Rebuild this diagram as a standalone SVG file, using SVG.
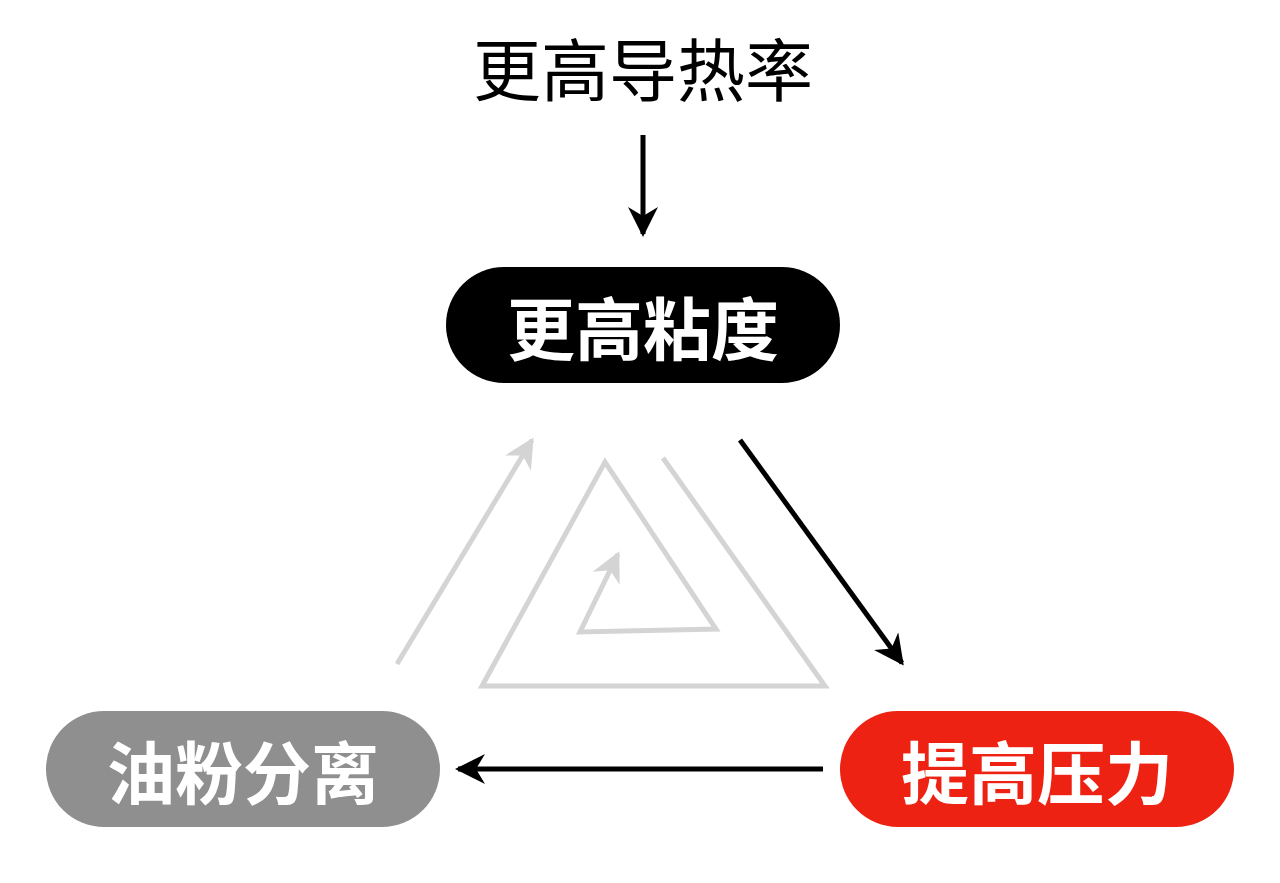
<svg xmlns="http://www.w3.org/2000/svg" width="1280" height="883" viewBox="0 0 1280 883">
<defs>
<marker id="ab" viewBox="0 0 10 10" refX="9" refY="5" markerWidth="6" markerHeight="6" markerUnits="strokeWidth" orient="auto"><path d="M0,0L10,5L0,10L3,5z" fill="#000"/></marker>
<marker id="ag" viewBox="0 0 10 10" refX="9" refY="5" markerWidth="6" markerHeight="6" markerUnits="strokeWidth" orient="auto"><path d="M0,0L10,5L0,10L3,5z" fill="#d4d4d4"/></marker>
</defs>
<style>
.t{font-family:"Noto Sans CJK SC",sans-serif;text-anchor:middle;dominant-baseline:central}
.n{font-size:68px;font-weight:bold;fill:#fff}
.k{stroke:#000;stroke-width:5;fill:none}
.g{stroke:#d4d4d4;stroke-width:5;fill:none}
</style>
<rect width="1280" height="883" fill="#fff"/>
<text class="t" x="643" y="66" font-size="68">更高导热率</text>
<g id="top"><rect x="446" y="267" width="394" height="116" rx="58" fill="#000"/><text class="t n" x="643" y="325">更高粘度</text></g>
<g id="left"><rect x="46" y="711" width="394" height="116" rx="58" fill="#8f8f8f"/><text class="t n" x="243" y="769">油粉分离</text></g>
<g id="right"><rect x="840" y="711" width="394" height="116" rx="58" fill="#ee2213"/><text class="t n" x="1037" y="769">提高压力</text></g>
<g id="connectors">
<line class="k" x1="643" y1="135" x2="643" y2="234" marker-end="url(#ab)"/>
<line class="k" x1="740" y1="440" x2="902" y2="663" marker-end="url(#ab)"/>
<line class="k" x1="823" y1="769" x2="458" y2="769" marker-end="url(#ab)"/>
<line class="g" x1="397" y1="664" x2="532" y2="440" marker-end="url(#ag)"/>
<polyline class="g" points="663,458 825,686 482,686 605,462 716,629 580,632 618,554" marker-end="url(#ag)"/>
</g>
</svg>
